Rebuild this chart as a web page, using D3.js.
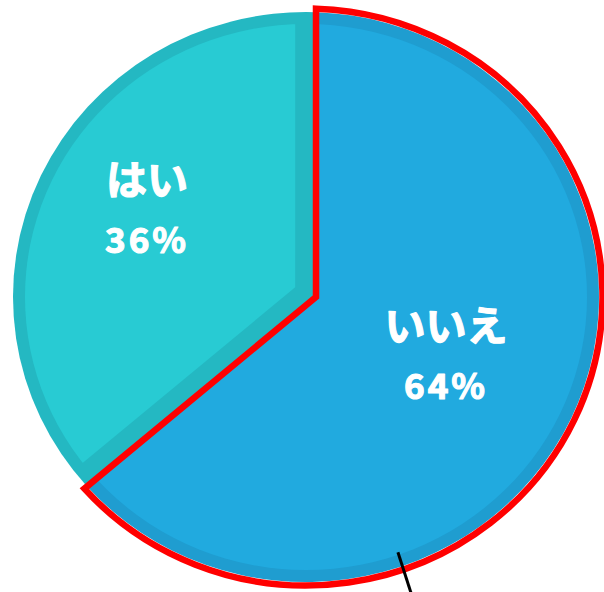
<!DOCTYPE html>
<html>
<head>
<meta charset="utf-8">
<script src="https://cdn.jsdelivr.net/npm/d3@7"></script>
<style>
  html, body { margin: 0; padding: 0; background: #ffffff; overflow: hidden; }
  svg { display: block; }
</style>
</head>
<body>
<svg id="chart" width="604" height="592"></svg>
<script>
// Survey answers
const categories = ["はい", "いいえ"];
const values = [36, 64];
const valueLabels = ["36%", "64%"];

// Slice styling
const fills = ["#28cbd3", "#21aadf"];
const rimFills = ["#24b8c2", "#1f9dd0"];
const radialInsets = [23, 0];          // lighter core pulled in from the slice edges
const labelPolar = [                   // [angle shift (deg), radius] from the hub
  [2.6, 191],
  [-1.5, 142]
];

const W = 604, H = 592;
const oval = { cx: 306, cy: 297, rx: 293, ry: 285 };
const hub = [316, 297];
const rim = 12;

const svg = d3.select("#chart");
const total = d3.sum(values);
const start = -2 * Math.PI * values[0] / total;

const pie = d3.pie()
  .sort(null)
  .startAngle(start)
  .endAngle(start + 2 * Math.PI);
const arcs = pie(values);

// Where a ray from the hub at pie angle a meets the (grown) oval
function rayHit(a, e) {
  const dx = Math.sin(a), dy = -Math.cos(a);
  const ox = hub[0] - e.cx, oy = hub[1] - e.cy;
  const A = (dx / e.rx) ** 2 + (dy / e.ry) ** 2;
  const B = 2 * (ox * dx / (e.rx * e.rx) + oy * dy / (e.ry * e.ry));
  const C = (ox / e.rx) ** 2 + (oy / e.ry) ** 2 - 1;
  const t = (-B + Math.sqrt(B * B - 4 * A * C)) / (2 * A);
  return [hub[0] + t * dx, hub[1] + t * dy];
}
function paramAngle(p, e) {
  return Math.atan2((p[0] - e.cx) / e.rx, -(p[1] - e.cy) / e.ry);
}
function grow(e, g) {
  return { cx: e.cx, cy: e.cy, rx: e.rx + g, ry: e.ry + g };
}
function slicePath(d, e) {
  const p0 = rayHit(d.startAngle, e), p1 = rayHit(d.endAngle, e);
  let span = paramAngle(p1, e) - paramAngle(p0, e);
  while (span <= 0) span += 2 * Math.PI;
  const large = span > Math.PI ? 1 : 0;
  const path = d3.path();
  path.moveTo(hub[0], hub[1]);
  path.lineTo(p0[0], p0[1]);
  return path.toString() +
    `A${e.rx},${e.ry} 0 ${large} 1 ${p1[0]},${p1[1]}Z`;
}

// Inner oval used to reveal the darker rim
const defs = svg.append("defs");
defs.append("clipPath").attr("id", "core")
  .append("ellipse")
  .attr("cx", oval.cx).attr("cy", oval.cy)
  .attr("rx", oval.rx - rim).attr("ry", oval.ry - rim);

const slices = svg.append("g").attr("class", "slices");

// Rim layer: full slices in the darker shade
slices.selectAll("path.rim")
  .data(arcs)
  .join("path")
  .attr("class", "rim")
  .attr("d", d => slicePath(d, oval))
  .attr("fill", (d, i) => rimFills[i]);

// Core layer: lighter fill, inset from the outline
slices.selectAll("g.core")
  .data(arcs)
  .join("g")
  .attr("class", "core")
  .attr("clip-path", "url(#core)")
  .append("path")
  .attr("transform", (d, i) => {
    const mid = (d.startAngle + d.endAngle) / 2;
    const k = radialInsets[i];
    return `translate(${Math.sin(mid) * k},${-Math.cos(mid) * k})`;
  })
  .attr("d", d => slicePath(d, oval))
  .attr("fill", (d, i) => fills[i]);

// Red highlight around the "いいえ" slice
svg.append("path")
  .datum(arcs[1])
  .attr("d", d => slicePath(d, grow(oval, 3.5)))
  .attr("fill", "none")
  .attr("stroke", "#ff0000")
  .attr("stroke-width", 6.5)
  .attr("stroke-linejoin", "miter");

// Pointer line crossing the lower rim
const pointerAngle = 162.2 * Math.PI / 180;
const pIn = d3.pointRadial(pointerAngle, 268);
const pOut = d3.pointRadial(pointerAngle, 314);
svg.append("line")
  .attr("x1", hub[0] + pIn[0]).attr("y1", hub[1] + pIn[1])
  .attr("x2", hub[0] + pOut[0]).attr("y2", hub[1] + pOut[1])
  .attr("stroke", "#000")
  .attr("stroke-width", 3);

// Labels
const labels = svg.append("g")
  .attr("fill", "#ffffff")
  .attr("stroke", "#ffffff")
  .attr("stroke-width", 1.2)
  .attr("stroke-linejoin", "round")
  .attr("font-family", "'Noto Sans CJK JP', 'Noto Sans', sans-serif")
  .attr("font-weight", 700)
  .attr("text-anchor", "middle");

arcs.forEach((d, i) => {
  const mid = (d.startAngle + d.endAngle) / 2 + labelPolar[i][0] * Math.PI / 180;
  const p = d3.pointRadial(mid, labelPolar[i][1]);
  const x = hub[0] + p[0], y = hub[1] + p[1];
  labels.append("text")
    .attr("x", x).attr("y", y - 31)
    .attr("dominant-baseline", "central")
    .attr("font-size", 41)
    .text(categories[i]);
  labels.append("text")
    .attr("x", x).attr("y", y + 45)
    .attr("font-size", 35)
    .attr("letter-spacing", 3)
    .text(valueLabels[i]);
});
</script>
</body>
</html>
